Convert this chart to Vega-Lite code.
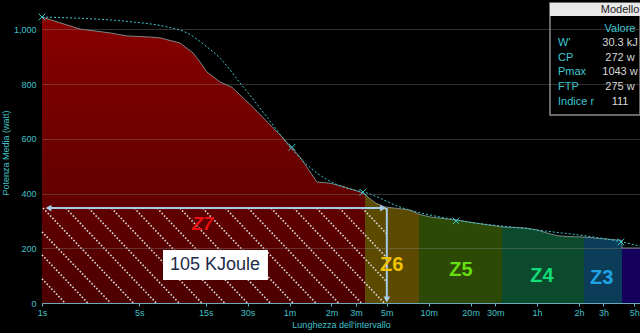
{
  "$schema": "https://vega.github.io/schema/vega-lite/v6.json",
  "width": 598,
  "height": 301,
  "autosize": {"type": "none"},
  "padding": {"left": 42, "top": 2, "right": 0, "bottom": 30},
  "background": "#000000",
  "config": {"view": {"stroke": null}, "font": "Liberation Sans"},
  "resolve": {"scale": {"color": "independent"}},
  "datasets": {
    "curve": [
      {"t": 1, "w": 1045, "z": "Z7"},
      {"t": 1.875, "w": 1001, "z": "Z7"},
      {"t": 3.08, "w": 987, "z": "Z7"},
      {"t": 4.08, "w": 976, "z": "Z7"},
      {"t": 5.97, "w": 972, "z": "Z7"},
      {"t": 7.04, "w": 969, "z": "Z7"},
      {"t": 9.8, "w": 950, "z": "Z7"},
      {"t": 12.16, "w": 914, "z": "Z7"},
      {"t": 13.65, "w": 881, "z": "Z7"},
      {"t": 15.32, "w": 844, "z": "Z7"},
      {"t": 19, "w": 808, "z": "Z7"},
      {"t": 23.2, "w": 788, "z": "Z7"},
      {"t": 32.8, "w": 715, "z": "Z7"},
      {"t": 53.9, "w": 603, "z": "Z7"},
      {"t": 71.4, "w": 533, "z": "Z7"},
      {"t": 94.5, "w": 442, "z": "Z7"},
      {"t": 117.2, "w": 438, "z": "Z7"},
      {"t": 150, "w": 424, "z": "Z7"},
      {"t": 202.3, "w": 402, "z": "Z7"},
      {"t": 209.1, "w": 395, "z": "Z7"},
      {"t": 209.1, "w": 395, "z": "Z6"},
      {"t": 250, "w": 365, "z": "Z6"},
      {"t": 291.1, "w": 351, "z": "Z6"},
      {"t": 340, "w": 347, "z": "Z6"},
      {"t": 440, "w": 340, "z": "Z6"},
      {"t": 511, "w": 324, "z": "Z6"},
      {"t": 511, "w": 324, "z": "Z5"},
      {"t": 620, "w": 314, "z": "Z5"},
      {"t": 958, "w": 303, "z": "Z5"},
      {"t": 1300, "w": 292, "z": "Z5"},
      {"t": 2016, "w": 278, "z": "Z5"},
      {"t": 2016, "w": 278, "z": "Z4"},
      {"t": 3000, "w": 274, "z": "Z4"},
      {"t": 3597, "w": 267, "z": "Z4"},
      {"t": 4245, "w": 256, "z": "Z4"},
      {"t": 5000, "w": 246, "z": "Z4"},
      {"t": 6000, "w": 243, "z": "Z4"},
      {"t": 7829, "w": 241, "z": "Z4"},
      {"t": 7829, "w": 241, "z": "Z3"},
      {"t": 10000, "w": 236, "z": "Z3"},
      {"t": 14000, "w": 230, "z": "Z3"},
      {"t": 14680, "w": 229, "z": "Z3"},
      {"t": 14680, "w": 201, "z": "Z2"},
      {"t": 19770, "w": 201, "z": "Z2"}
    ],
    "model": [
      {"t": 1, "w": 1045},
      {"t": 4.5, "w": 1027},
      {"t": 7.9, "w": 1009},
      {"t": 11, "w": 987},
      {"t": 15.3, "w": 936},
      {"t": 19, "w": 895},
      {"t": 26.5, "w": 804},
      {"t": 41.3, "w": 680},
      {"t": 60.5, "w": 570},
      {"t": 94.5, "w": 475},
      {"t": 145, "w": 424},
      {"t": 216, "w": 402},
      {"t": 373, "w": 351},
      {"t": 958, "w": 303},
      {"t": 3597, "w": 267},
      {"t": 14680, "w": 223},
      {"t": 19770, "w": 208}
    ],
    "fitPoints": [
      {"t": 1, "w": 1045},
      {"t": 62.5, "w": 569},
      {"t": 202, "w": 405},
      {"t": 942, "w": 300},
      {"t": 14430, "w": 223}
    ],
    "hatch": [
      {"t": 1, "w": 88.5, "t2": 1.4627, "w2": 0},
      {"t": 1, "w": 175.8, "t2": 2.1332, "w2": 0},
      {"t": 1, "w": 259.9, "t2": 3.111, "w2": 0},
      {"t": 1.0167, "w": 347, "t2": 4.535, "w2": 0},
      {"t": 1.4822, "w": 347, "t2": 6.6127, "w2": 0},
      {"t": 2.1616, "w": 347, "t2": 9.6428, "w2": 0},
      {"t": 3.1524, "w": 347, "t2": 14.059, "w2": 0},
      {"t": 4.5954, "w": 347, "t2": 20.5, "w2": 0},
      {"t": 6.7008, "w": 347, "t2": 29.894, "w2": 0},
      {"t": 9.7713, "w": 347, "t2": 43.594, "w2": 0},
      {"t": 14.247, "w": 347, "t2": 63.57, "w2": 0},
      {"t": 20.773, "w": 347, "t2": 92.678, "w2": 0},
      {"t": 30.292, "w": 347, "t2": 135.14, "w2": 0},
      {"t": 44.174, "w": 347, "t2": 197.0, "w2": 0},
      {"t": 64.416, "w": 347, "t2": 287.25, "w2": 0},
      {"t": 93.913, "w": 347, "t2": 300, "w2": 77.5},
      {"t": 136.93, "w": 347, "t2": 300, "w2": 165.2},
      {"t": 199.62, "w": 347, "t2": 300, "w2": 252.5},
      {"t": 291.1, "w": 347, "t2": 300, "w2": 340.3}
    ],
    "arrows": [
      {"t": 1.114, "w": 347, "t2": 283, "w2": 347},
      {"t": 300, "w": 347, "t2": 300, "w2": 10}
    ],
    "heads": [
      {"t": 1.114, "w": 347, "s": "triangle-left"},
      {"t": 281.7, "w": 347, "s": "triangle-right"},
      {"t": 300, "w": 12.8, "s": "triangle-down"}
    ],
    "energy": [
      {"label": "105 KJoule", "t": 7.4, "t2": 42.0, "w": 84.1, "w2": 193.7, "tc": 17.49, "wc": 139}
    ],
    "zones": [
      {"zone": "Z6", "t": 325.3, "w": 138.9},
      {"zone": "Z5", "t": 1023.5, "w": 120.6},
      {"zone": "Z4", "t": 3908, "w": 98.7},
      {"zone": "Z3", "t": 10490, "w": 90.3}
    ],
    "zone7": [
      {"zone": "Z7", "t": 14.22, "w": 285}
    ],
    "panel": [
      {"t": 4460, "t2": 19770, "w": 687, "w2": 1096, "hw": 1049}
    ],
    "params": [
      {"param": "W'", "value": "30.3 kJ", "w": 950},
      {"param": "CP", "value": "272 w", "w": 895},
      {"param": "Pmax", "value": "1043 w", "w": 844},
      {"param": "FTP", "value": "275 w", "w": 789},
      {"param": "Indice reattività", "value": "111", "w": 735}
    ]
  },
  "layer": [
    {
      "data": {"name": "curve"},
      "transform": [{"filter": "datum.z === 'Z7'"}],
      "mark": {
        "type": "area",
        "fill": {
          "gradient": "linear", "x1": 1, "y1": 0, "x2": 1, "y2": 1,
          "stops": [{"offset": 0, "color": "#880000"}, {"offset": 1, "color": "#4c0000"}]
        }
      },
      "encoding": {
        "x": {
          "field": "t", "type": "quantitative",
          "scale": {"type": "log", "domain": [1, 19770], "nice": false},
          "axis": {
            "title": "Lunghezza dell'intervallo",
            "values": [1, 5, 15, 30, 60, 120, 180, 300, 600, 1200, 1800, 3600, 7200, 10800, 18000],
            "labelExpr": "datum.value < 60 ? datum.value + 's' : datum.value < 3600 ? (datum.value / 60) + 'm' : (datum.value / 3600) + 'h'",
            "grid": false,
            "domainColor": "#5cb8d0",
            "tickColor": "#5cb8d0",
            "tickSize": 3,
            "labelColor": "#40c0c8",
            "labelFontSize": 9,
            "labelPadding": 2,
            "labelFlush": false,
            "titleColor": "#40c0c8",
            "titleFontSize": 9,
            "titleFontWeight": "normal",
            "titlePadding": 3
          }
        },
        "y": {
          "field": "w", "type": "quantitative",
          "scale": {"domain": [0, 1100], "nice": false},
          "axis": {
            "title": "Potenza Media (watt)",
            "values": [0, 200, 400, 600, 800, 1000],
            "format": ",d",
            "grid": true,
            "gridColor": "#8c8c8c",
            "gridOpacity": 0.35,
            "domain": false,
            "ticks": false,
            "labelColor": "#40c0c8",
            "labelFontSize": 9,
            "labelPadding": 6,
            "titleColor": "#40c0c8",
            "titleFontSize": 9,
            "titleFontWeight": "normal",
            "titlePadding": 3,
            "zindex": 1
          }
        }
      }
    },
    {
      "data": {"name": "curve"},
      "transform": [{"filter": "datum.z !== 'Z7'"}],
      "mark": {"type": "area", "opacity": 1},
      "encoding": {
        "x": {"field": "t", "type": "quantitative"},
        "y": {"field": "w", "type": "quantitative", "stack": null},
        "color": {
          "field": "z", "type": "nominal",
          "scale": {"domain": ["Z6", "Z5", "Z4", "Z3", "Z2"], "range": ["#5b4a00", "#2c4a06", "#0b4a2c", "#0b3c58", "#15005e"]},
          "legend": null
        }
      }
    },
    {
      "data": {"name": "curve"},
      "mark": {"type": "line", "color": "#8fa3a3", "strokeWidth": 0.8},
      "encoding": {
        "x": {"field": "t", "type": "quantitative"},
        "y": {"field": "w", "type": "quantitative"}
      }
    },
    {
      "data": {"name": "hatch"},
      "mark": {"type": "rule", "color": "#dcdcdc", "strokeWidth": 1.6, "strokeDash": [1.6, 1.8]},
      "encoding": {
        "x": {"field": "t", "type": "quantitative"},
        "y": {"field": "w", "type": "quantitative"},
        "x2": {"field": "t2"},
        "y2": {"field": "w2"}
      }
    },
    {
      "data": {"name": "model"},
      "mark": {"type": "line", "color": "#3cc8d0", "strokeWidth": 1, "strokeDash": [2, 2], "interpolate": "monotone"},
      "encoding": {
        "x": {"field": "t", "type": "quantitative"},
        "y": {"field": "w", "type": "quantitative"}
      }
    },
    {
      "data": {"name": "fitPoints"},
      "mark": {"type": "point", "shape": "M-1,-1L1,1M-1,1L1,-1", "filled": false, "color": "#3cc8d0", "size": 45, "strokeWidth": 1, "opacity": 1},
      "encoding": {
        "x": {"field": "t", "type": "quantitative"},
        "y": {"field": "w", "type": "quantitative"}
      }
    },
    {
      "data": {"name": "arrows"},
      "mark": {"type": "rule", "color": "#a6cce6", "strokeWidth": 2},
      "encoding": {
        "x": {"field": "t", "type": "quantitative"},
        "y": {"field": "w", "type": "quantitative"},
        "x2": {"field": "t2"},
        "y2": {"field": "w2"}
      }
    },
    {
      "data": {"name": "heads"},
      "mark": {"type": "point", "filled": true, "color": "#a6cce6", "size": 45, "opacity": 1},
      "encoding": {
        "x": {"field": "t", "type": "quantitative"},
        "y": {"field": "w", "type": "quantitative"},
        "shape": {"field": "s", "type": "nominal", "scale": null}
      }
    },
    {
      "data": {"name": "energy"},
      "mark": {"type": "rect", "fill": "#ffffff"},
      "encoding": {
        "x": {"field": "t", "type": "quantitative"},
        "x2": {"field": "t2"},
        "y": {"field": "w", "type": "quantitative"},
        "y2": {"field": "w2"}
      }
    },
    {
      "data": {"name": "energy"},
      "mark": {"type": "text", "color": "#1c2b4a", "fontSize": 18, "align": "center", "baseline": "middle"},
      "encoding": {
        "x": {"field": "tc", "type": "quantitative"},
        "y": {"field": "wc", "type": "quantitative"},
        "text": {"field": "label"}
      }
    },
    {
      "data": {"name": "zone7"},
      "mark": {"type": "text", "color": "#e81010", "fontSize": 18, "fontWeight": "bold", "fontStyle": "italic", "align": "center", "baseline": "middle"},
      "encoding": {
        "x": {"field": "t", "type": "quantitative"},
        "y": {"field": "w", "type": "quantitative"},
        "text": {"field": "zone"}
      }
    },
    {
      "data": {"name": "zones"},
      "mark": {"type": "text", "fontSize": 20, "fontWeight": "bold", "align": "center", "baseline": "middle"},
      "encoding": {
        "x": {"field": "t", "type": "quantitative"},
        "y": {"field": "w", "type": "quantitative"},
        "text": {"field": "zone"},
        "color": {
          "field": "zone", "type": "nominal",
          "scale": {"domain": ["Z6", "Z5", "Z4", "Z3"], "range": ["#f2c200", "#66dd11", "#11dd77", "#1ea4e6"]},
          "legend": null
        }
      }
    },
    {
      "data": {"name": "panel"},
      "mark": {"type": "rect", "fill": "#000000", "stroke": "#8a8a8a", "strokeWidth": 1.5},
      "encoding": {
        "x": {"field": "t", "type": "quantitative"},
        "x2": {"field": "t2"},
        "y": {"field": "w", "type": "quantitative"},
        "y2": {"field": "w2"}
      }
    },
    {
      "data": {"name": "panel"},
      "mark": {"type": "rect", "fill": "#e8e8e8"},
      "encoding": {
        "x": {"field": "t", "type": "quantitative"},
        "x2": {"field": "t2"},
        "y": {"field": "hw", "type": "quantitative"},
        "y2": {"field": "w2"}
      }
    },
    {
      "data": {"values": [{"h": "Modello"}]},
      "mark": {"type": "text", "color": "#222222", "fontSize": 11, "align": "center", "baseline": "middle"},
      "encoding": {
        "x": {"datum": 14200, "type": "quantitative"},
        "y": {"datum": 1071, "type": "quantitative"},
        "text": {"field": "h"}
      }
    },
    {
      "data": {"values": [{"h": "Valore"}]},
      "mark": {"type": "text", "color": "#3cc8d0", "fontSize": 11, "align": "center", "baseline": "middle"},
      "encoding": {
        "x": {"datum": 14200, "type": "quantitative"},
        "y": {"datum": 1001, "type": "quantitative"},
        "text": {"field": "h"}
      }
    },
    {
      "data": {"name": "params"},
      "mark": {"type": "text", "color": "#3cc8d0", "fontSize": 11, "align": "left", "baseline": "middle", "limit": 40, "ellipsis": " "},
      "encoding": {
        "x": {"datum": 5093, "type": "quantitative"},
        "y": {"field": "w", "type": "quantitative"},
        "text": {"field": "param"}
      }
    },
    {
      "data": {"name": "params"},
      "mark": {"type": "text", "color": "#d8d8d8", "fontSize": 11, "align": "center", "baseline": "middle"},
      "encoding": {
        "x": {"datum": 14200, "type": "quantitative"},
        "y": {"field": "w", "type": "quantitative"},
        "text": {"field": "value"}
      }
    }
  ]
}
